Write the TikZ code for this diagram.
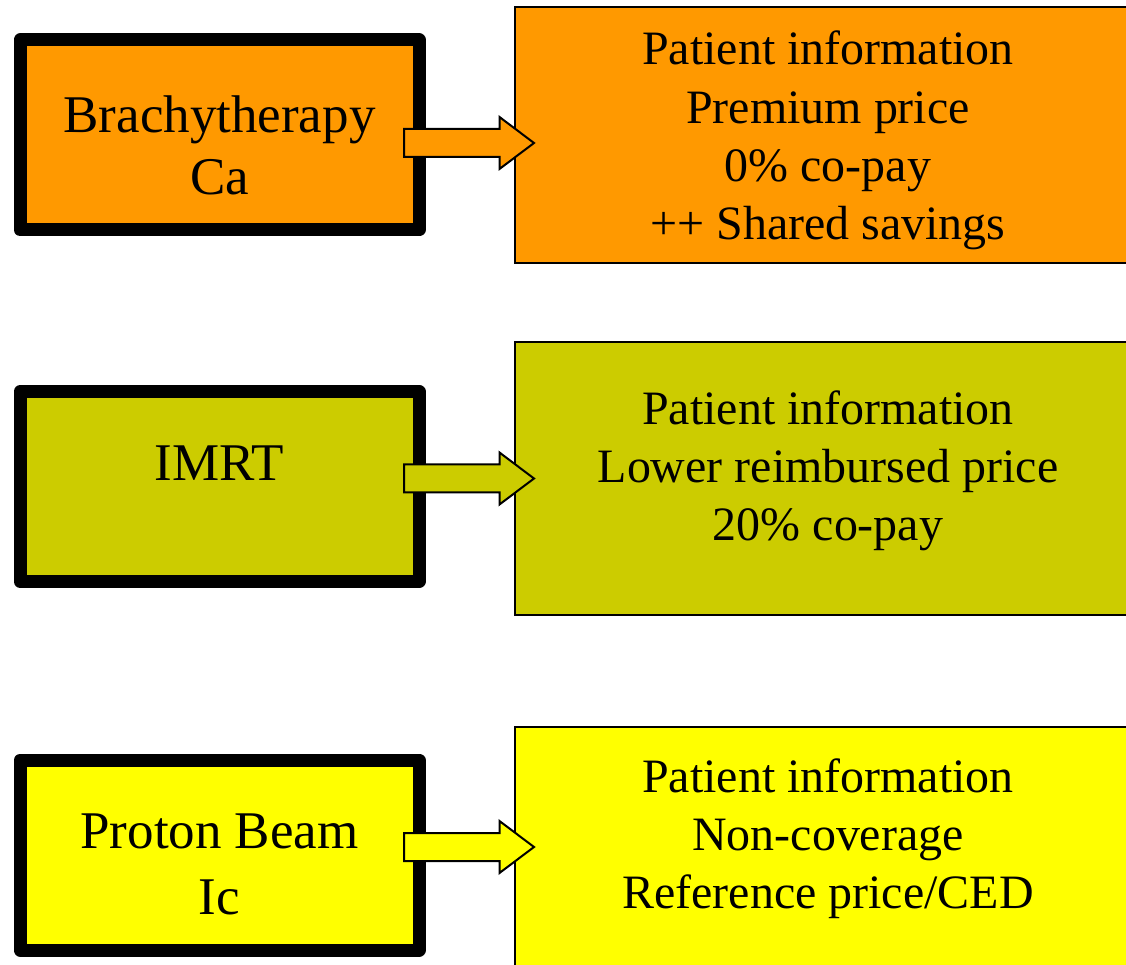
\documentclass[tikz,border=0pt]{standalone}
\usepackage{fontspec}
\setmainfont{Liberation Serif}
\usetikzlibrary{shapes.arrows}
\definecolor{brachyorange}{RGB}{255,153,0}
\definecolor{imrtolive}{RGB}{204,204,0}
\definecolor{protonyellow}{RGB}{255,255,0}

\begin{document}
\begin{tikzpicture}[leftbox/.style={draw=black, line width=0.325cm, line join=round, minimum width=9.975cm, minimum height=4.75cm, inner sep=0pt, align=center, text depth=0pt, font=\fontsize{37.7}{44.5}\selectfont},
                    infobox/.style={draw=black, line width=0.05cm, minimum width=15.65cm, inner sep=0pt, align=center, text depth=0pt, font=\fontsize{34.1}{41.3}\selectfont},
                    barrow/.style={single arrow, draw=black, line width=0.05cm, inner xsep=0pt, inner ysep=0.325cm, minimum height=3.25cm, minimum width=1.25cm, single arrow head extend=0.3cm, single arrow tip angle=74, anchor=tail, xshift=-0.5625cm}]
            \path[use as bounding box, clip] (0,0) rectangle (28.15,24.1);
            \node[leftbox, fill=brachyorange, text height=84.8pt] (brachy) at (5.4875,20.725) {Brachytherapy\\Ca};
            \node[leftbox, fill=imrtolive, text height=0pt, text depth=9.2pt] (imrt) at (5.4875,11.9375) {IMRT};
            \node[leftbox, fill=protonyellow, text height=85.1pt] (proton) at (5.4875,2.725) {Proton Beam\\[3pt]Ic};
            \node[infobox, fill=brachyorange, minimum height=6.4cm, text height=148.2pt] (info1) at (20.7,20.725) {Patient information\\Premium price\\0\% co-pay\\++ Shared savings};
            \node[infobox, fill=imrtolive, minimum height=6.825cm, text height=88.5pt] (info2) at (20.7,12.1375) {Patient information\\Lower reimbursed price\\20\% co-pay};
            \node[infobox, fill=protonyellow, minimum height=6.95cm, text height=60.7pt] (info3) at (20.7,2.45) {Patient information\\Non-coverage\\Reference price/CED};
            \path (brachy.east) -- (info1.west) node[pos=0, barrow, fill=brachyorange, yshift=-0.2cm] (arr1) {};
            \path (imrt.east) -- (info2.west) node[pos=0, barrow, fill=imrtolive, yshift=0.2cm] (arr2) {};
            \path (proton.east) -- (info3.west) node[pos=0, barrow, fill=protonyellow, yshift=0.2cm] (arr3) {};
        \end{tikzpicture}
\end{document}
